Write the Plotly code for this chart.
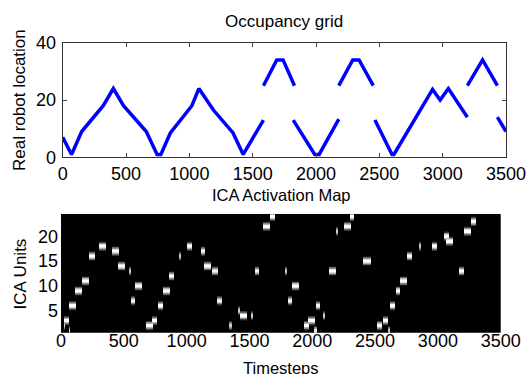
import numpy as np
import plotly.graph_objects as go

# ---- Top panel: robot location over time (piecewise vertices, None = break)
loc_t = [0, 70, 150, 320, 400, 480, 660, 745, 775, 850, 1020, 1075, 1190, 1345, 1425, 1585, None,
         1585, 1690, 1740, 1830, None,
         1820, 1990, 2025, 2180, None,
         2180, 2290, 2340, 2452, None,
         2465, 2600, 2615, 2920, 2980, 3045, 3195, None,
         3195, 3315, 3432, None,
         3432, 3500]
loc_v = [7, 1, 9, 18, 24, 18, 9, 1, 1, 8.5, 18, 24, 16.5, 8.5, 1, 13, None,
         25, 34, 34, 25, None,
         13, 1, 1, 13.3, None,
         25, 34, 34, 25, None,
         13, 1, 1, 23.7, 20, 24, 14, None,
         25, 34, 25, None,
         14, 9]

# ---- Bottom panel: ICA activations (timestep, unit, width in timesteps, intensity)
act_t = [26, 40, 66, 93, 143, 191, 244, 332, 435, 483, 549, 570, 615,
         708, 742, 795, 841, 878, 947, 1021, 1127, 1164, 1225, 1260,
         1350, 1411, 1450, 1517, 1557, 1636, 1680,
         1790, 1822, 1864, 1949, 1994, 2021, 2042, 2092, 2161, 2193, 2281, 2313,
         2435, 2532, 2583, 2612, 2636, 2683, 2729, 2776, 2851, 2970, 3068, 3094,
         3184, 3235, 3280]
act_u = [2, 3, 1, 6, 9, 11, 16, 18, 17, 14, 13, 7, 10,
         2, 3, 6, 9, 12, 16, 18, 17, 14, 13, 7,
         2, 5, 4, 4, 13, 22, 24,
         13, 7, 10, 2, 3, 1, 6, 4, 13, 21, 22, 24,
         15, 2, 3, 1, 6, 9, 11, 16, 18, 18, 20, 19,
         13, 21, 23]
act_w = [15, 38, 15, 55, 55, 55, 48, 55, 55, 55, 15, 32, 55,
         55, 48, 38, 55, 38, 15, 42, 38, 55, 38, 38,
         15, 15, 55, 15, 38, 55, 38,
         15, 38, 55, 38, 55, 25, 38, 15, 55, 15, 55, 38,
         55, 38, 38, 15, 38, 38, 55, 38, 15, 38, 38, 55,
         38, 55, 38]
act_a = [0.85, 1.0, 0.85, 1.0, 1.0, 1.0, 1.0, 1.0, 1.0, 1.0, 0.8, 0.95, 1.0,
         1.0, 1.0, 1.0, 1.0, 1.0, 0.8, 1.0, 0.95, 1.0, 0.95, 0.95,
         0.8, 0.8, 1.0, 0.8, 0.95, 1.0, 1.0,
         0.8, 0.95, 1.0, 1.0, 1.0, 0.9, 0.95, 0.8, 1.0, 0.8, 1.0, 1.0,
         1.0, 1.0, 1.0, 0.8, 1.0, 1.0, 1.0, 1.0, 0.8, 1.0, 1.0, 1.0,
         1.0, 1.0, 1.0]

x_ticks = [0, 500, 1000, 1500, 2000, 2500, 3000, 3500]
n_units = 24
t_max = 3500

# build image grid
dt = 5
sub = 8
xs = np.arange(dt / 2, t_max, dt)
ys = np.arange(0.5 + 0.5 / sub, n_units + 0.5, 1 / sub)
Z = np.zeros((len(ys), len(xs)))
for t, u, w, a in zip(act_t, act_u, act_w, act_a):
    xm = np.abs(xs - t) <= w / 2
    prof = np.clip(1.25 * (1 - np.abs(ys - u)), 0, 1) * a
    Z[:, xm] = np.maximum(Z[:, xm], prof[:, None])

W, H = 529, 374
FONT = "Liberation Sans, Arial, Helvetica, sans-serif"

fig = go.Figure()
fig.add_trace(go.Scatter(x=loc_t, y=loc_v, mode="lines", connectgaps=False,
                         line=dict(color="rgb(0,0,255)", width=3.5),
                         xaxis="x", yaxis="y", showlegend=False))
fig.add_trace(go.Heatmap(x=xs, y=ys, z=Z, colorscale=[[0, "black"], [1, "white"]],
                         zmin=0, zmax=1, showscale=False, xaxis="x2", yaxis="y2"))

axis_common = dict(showgrid=False, zeroline=False, automargin=False,
                   tickfont=dict(size=18, color="black", family=FONT))
fig.update_layout(
    template="none",
    width=W, height=H,
    margin=dict(l=0, r=0, t=0, b=0, pad=0),
    paper_bgcolor="white", plot_bgcolor="white",
    font=dict(family=FONT, color="black"),
    xaxis=dict(domain=[62.7 / W, 506 / W], range=[0, 3500], tickvals=x_ticks,
               anchor="y", ticks="inside", ticklen=4, tickcolor="#444",
               showline=True, linecolor="#333", linewidth=1, mirror="ticks",
               ticklabelstandoff=0, **axis_common),
    yaxis=dict(domain=[1 - 157.3 / H, 1 - 42.7 / H], range=[0, 40], tickvals=[0, 20, 40],
               anchor="x", ticks="inside", ticklen=4, tickcolor="#444",
               showline=True, linecolor="#333", linewidth=1, mirror="ticks",
               ticklabelstandoff=2, **axis_common),
    xaxis2=dict(domain=[61 / W, 500.7 / W], range=[0, 3500], tickvals=x_ticks,
                anchor="y2", ticks="", showline=False, ticklabelstandoff=-5, **axis_common),
    yaxis2=dict(domain=[1 - 332.7 / H, 1 - 214 / H], range=[0.5, 24.5], tickvals=[5, 10, 15, 20],
                anchor="x2", ticks="", showline=False, ticklabelstandoff=2, **axis_common),
)

ann = [
    dict(text="Occupancy grid", x=284 / W, y=1 - 21.7 / H, size=17, angle=0),
    dict(text="ICA Activation Map", x=281 / W, y=1 - 194.5 / H, size=16.5, angle=0),
    dict(text="Timesteps", x=281 / W, y=1 - 367.5 / H, size=16.5, angle=0),
    dict(text="Real robot location", x=20 / W, y=1 - 100 / H, size=17, angle=-90),
    dict(text="ICA Units", x=19.5 / W, y=1 - 274 / H, size=17, angle=-90),
]
for a in ann:
    fig.add_annotation(text=a["text"], x=a["x"], y=a["y"], xref="paper", yref="paper",
                       xanchor="center", yanchor="middle", showarrow=False,
                       textangle=a["angle"], font=dict(size=a["size"], family=FONT, color="black"))

fig.write_html("out.html", config={"displayModeBar": False},
               post_script="document.body.style.margin='0px';document.body.style.overflow='hidden';")
